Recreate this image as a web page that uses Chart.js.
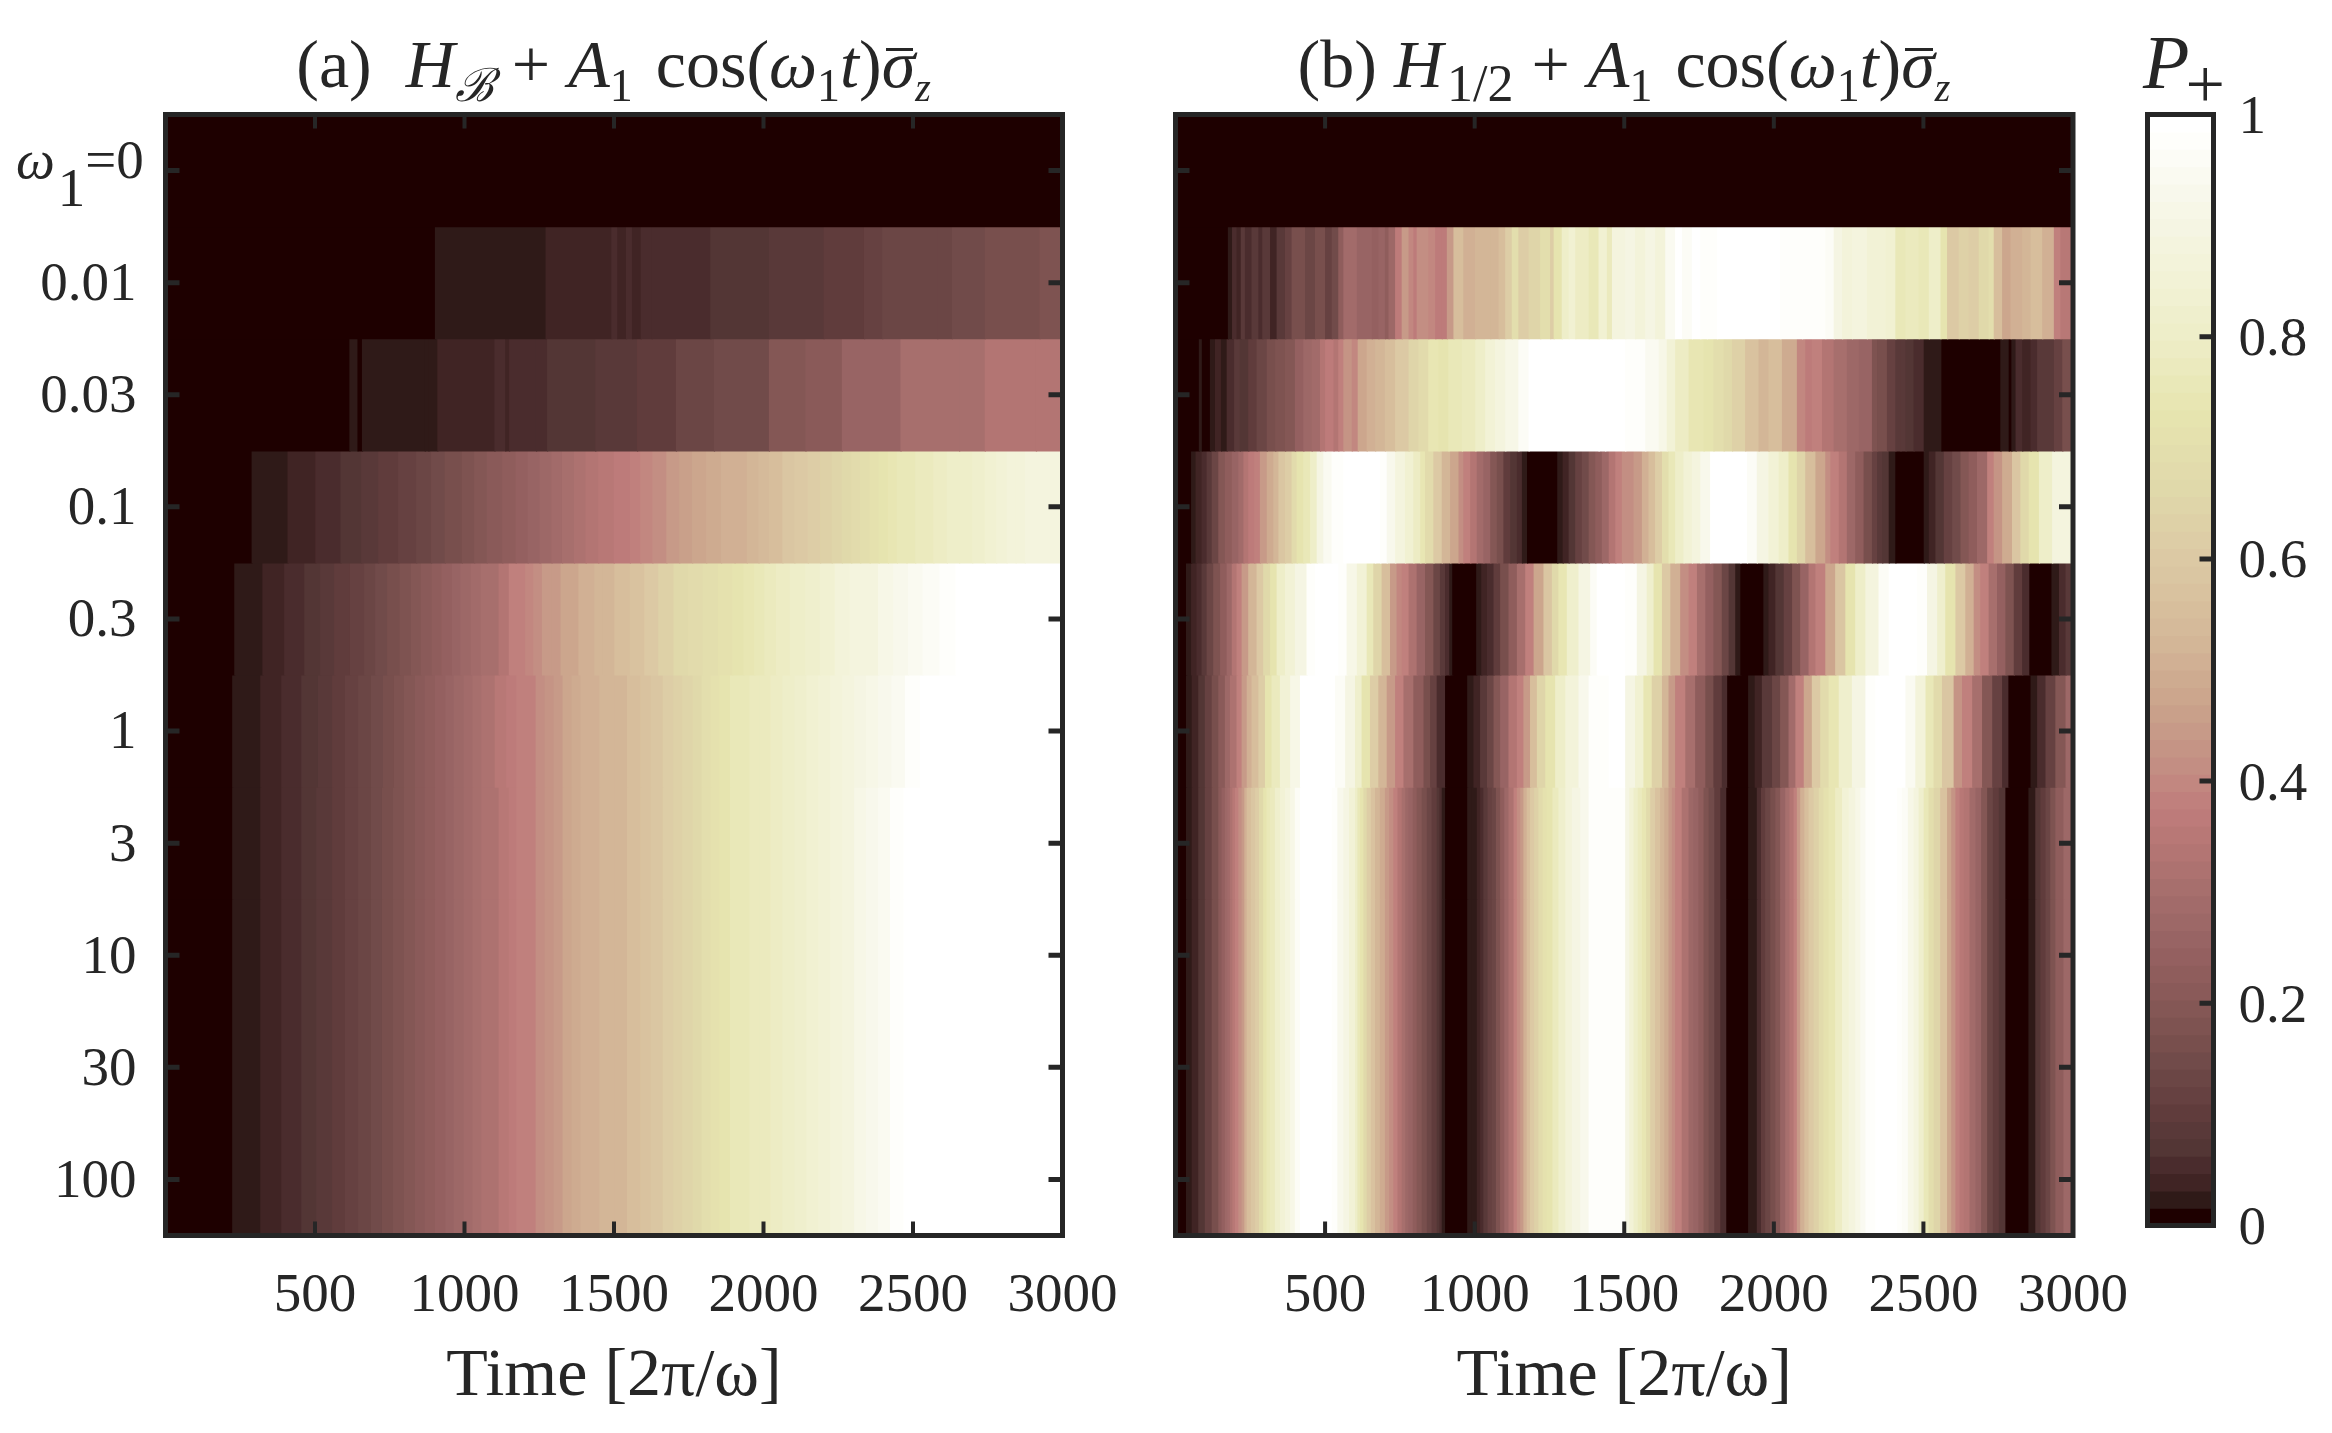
<!DOCTYPE html>
<html>
<head>
<meta charset="utf-8">
<script src="https://cdn.jsdelivr.net/npm/chart.js@4"></script>
<style>
  html, body { margin: 0; background: #fff; }
  #page { position: relative; width: 2332px; height: 1433px; overflow: hidden; font-family: "Liberation Serif", serif; color: #262626; }
  canvas { position: absolute; top: 0; }
  .ttl { position: absolute; top: 24px; text-align: center; font-size: 68px; line-height: 80px; white-space: nowrap; }
  .ttl sub { font-size: 46px; line-height: 0; vertical-align: -14px; }
  .ttl sub.s2 { font-size: 40px; }
  .ttl sub.half { font-size: 52px; margin-left: 4px; }
  .ttl .op { margin: 0 18px; }
  .ttl .cos { margin-left: 6px; }
  .ttl .bar { position: relative; }
  .ttl .bar::before { content: ""; position: absolute; left: 4px; right: 2px; top: 22px; height: 3px; background: #262626; }
  #cbLabel { position: absolute; left: 2143px; top: 22px; font-size: 76px; line-height: 80px; font-style: italic; white-space: nowrap; }
  #cbLabel sub { font-size: 70px; font-style: normal; line-height: 0; vertical-align: -20px; margin-left: -4px; }
  #w0 { position: absolute; left: 16px; top: 128px; font-size: 55px; line-height: 64px; white-space: nowrap; }
  #w0 sub { font-size: 55px; line-height: 0; vertical-align: -28px; margin: 0 0 0 3px; }
</style>
</head>
<body>
<div id="page">
  <canvas id="panelA" width="1150" height="1433" style="left:0"></canvas>
  <canvas id="panelB" width="1100" height="1433" style="left:1110px"></canvas>
  <canvas id="colorBar" width="222" height="1433" style="left:2110px"></canvas>
  <div class="ttl" style="left:165px;width:897px">(a)&nbsp; <i>H</i><sub><i>ℬ</i></sub><span class="op">+</span><i>A</i><sub>1</sub> <span class="cos">cos</span>(<i>ω</i><sub>1</sub><i>t</i>)<i class="bar">σ</i><sub class="s2"><i>z</i></sub></div>
  <div class="ttl" style="left:1175px;width:898px">(b) <i>H</i><sub class="half">1/2</sub><span class="op">+</span><i>A</i><sub>1</sub> <span class="cos">cos</span>(<i>ω</i><sub>1</sub><i>t</i>)<i class="bar">σ</i><sub class="s2"><i>z</i></sub></div>
  <div id="cbLabel">P<sub>+</sub></div>
  <div id="w0"><i>ω</i><sub>1</sub>=0</div>
</div>
<script>
const omegaLabels = ['ω=0', '0.01', '0.03', '0.1', '0.3', '1', '3', '10', '30', '100'];
const xTicksMax = 3000;

// colormap, [P, colour]
const cmapP = [0.008, 0.023, 0.039, 0.055, 0.07, 0.1, 0.15, 0.2, 0.25, 0.3, 0.35, 0.375, 0.41, 0.46, 0.53, 0.6, 0.66, 0.735, 0.8, 0.9, 0.99];
const cmapHex = ['1e0000', '2f1a18', '402424', '4a2c2d', '533635', '5f3c3c', '724b4a', '865856', '966262', 'a56e6c', 'b87876', 'bf7c7c', 'c38c82', 'c9a08a', 'd4b898', 'dcc9a4', 'e0d8aa', 'e7e5b0', 'eeeec8', 'f5f5e3', 'ffffff'];

// each row: time where a stretch starts and P+ on that stretch
const zeroT = [0];
const zeroP = [0];

// panel (a)
const a001T = [0,903,1273,1493,1513,1542,1562,1591,1628,1824,2020,2203,2338,2399,2583,2632,2742,2925];
const a001P = [0,.023,.039,.047,.039,.05,.039,.05,.055,.07,.09,.102,.11,.13,.14,.15,.16,.18];
const a003T = [0,617,644,659,869,881,911,1102,1138,1151,1241,1278,1439,1579,1709,1836,2020,2142,2264,2460,2656,2742,2913];
const a003P = [0,.023,0,.023,.03,.023,.039,.05,.039,.055,.047,.07,.09,.102,.13,.155,.19,.21,.25,.3,.31,.33,.34];
const a01T = [0,290,410,503,587,656,713,780,840,890,936,993,1034,1076,1128,1173,1213,1253,1293,1328,1368,1407,1449,1501,1555,1590,1630,1677,1720,1763,1810,1860,1905,1946,1985,2020,2065,2105,2150,2191,2230,2264,2295,2325,2357,2387,2418,2448,2480,2509,2540,2570,2615,2656,2700,2742,2780,2815,2845,2876];
const a01P = [0,.023,.039,.055,.07,.086,.102,.117,.133,.148,.164,.18,.195,.211,.227,.242,.258,.273,.289,.305,.32,.336,.352,.367,.39,.405,.42,.44,.455,.47,.485,.5,.515,.53,.545,.56,.58,.6,.615,.63,.645,.66,.68,.7,.715,.73,.74,.75,.76,.77,.78,.79,.8,.81,.82,.83,.845,.86,.87,.88];
const a03T = [0,232,326,399,466,519,566,619,666,703,743,785,823,856,892,925,960,988,1023,1056,1116,1150,1205,1232,1261,1292,1323,1353,1383,1409,1436,1465,1503,1555,1603,1650,1701,1750,1799,1850,1897,1935,1971,2005,2044,2090,2142,2190,2240,2290,2338,2385,2436,2485,2534,2590,2644];
const a03P = [0,.023,.039,.055,.07,.086,.102,.117,.133,.148,.164,.18,.195,.211,.227,.242,.258,.273,.289,.305,.34,.375,.40,.42,.44,.45,.47,.48,.50,.51,.52,.53,.55,.575,.6,.63,.66,.68,.7,.715,.73,.745,.76,.775,.79,.805,.82,.84,.86,.875,.89,.91,.93,.945,.96,.98,1];
const a1T = [0,225,319,389,456,512,559,602,646,689,729,766,799,836,869,903,938,966,999,1029,1058,1103,1141,1175,1212,1240,1270,1300,1330,1360,1390,1420,1453,1503,1545,1590,1625,1665,1700,1730,1765,1795,1825,1855,1890,1920,1955,1990,2025,2065,2105,2145,2185,2225,2265,2305,2345,2385,2430,2475,2525,2583];
const a1P = [0,.023,.039,.055,.07,.086,.102,.117,.133,.148,.164,.18,.195,.21,.227,.242,.258,.273,.29,.305,.32,.345,.36,.375,.385,.41,.43,.45,.47,.485,.5,.515,.525,.53,.55,.57,.59,.61,.63,.65,.67,.69,.71,.73,.75,.755,.77,.78,.79,.805,.82,.83,.845,.86,.88,.9,.915,.93,.95,.97,.985,1];
const a3T = [0,225,319,389,456,506,559,602,646,689,726,763,799,836,869,903,938,966,999,1029,1058,1116,1150,1175,1212,1240,1270,1300,1330,1360,1390,1420,1453,1503,1545,1590,1625,1665,1700,1730,1765,1795,1825,1855,1890,1920,1955,1990,2025,2065,2105,2145,2185,2225,2265,2305,2345,2385,2425,2470,2520];
const a3P = [0,.023,.039,.055,.07,.086,.102,.117,.133,.148,.164,.18,.195,.21,.227,.242,.258,.273,.29,.305,.32,.345,.36,.375,.385,.41,.43,.45,.47,.485,.5,.515,.525,.53,.55,.57,.59,.61,.63,.65,.67,.69,.71,.73,.75,.755,.77,.78,.79,.805,.82,.83,.845,.865,.89,.91,.93,.95,.97,.985,1];

// panel (b)
const b001T = [0,177,191,206,220,234,256,279,292,318,340,368,390,435,468,502,524,546,563,608,658,680,702,714,736,758,781,797,808,847,870,892,909,931,964,1003,1054,1082,1104,1126,1148,1182,1221,1254,1266,1293,1316,1338,1383,1416,1444,1461,1505,1538,1572,1605,1639,1672,1695,1728,1756,1778,1812,2023,2096,2174,2202,2230,2263,2313,2375,2408,2442,2486,2520,2559,2581,2620,2653,2687,2720,2737,2765,2793,2832,2860,2899,2938,2960];
const b001P = [0,.03,.05,.04,.09,.05,.08,.06,.08,.04,.09,.12,.17,.14,.17,.12,.15,.22,.29,.26,.24,.25,.22,.28,.36,.45,.40,.37,.41,.40,.37,.36,.44,.55,.50,.53,.52,.56,.62,.70,.62,.65,.70,.62,.72,.80,.84,.79,.76,.84,.78,.88,.90,.87,.9,.86,.95,1,.96,1,.97,.98,1,.98,.97,.96,.90,.87,.89,.85,.83,.75,.78,.76,.8,.72,.60,.64,.62,.66,.70,.55,.47,.5,.52,.56,.5,.38,.35];
const b003T = [0,80,90,117,134,154,173,198,217,245,273,307,335,368,401,429,457,485,502,530,546,563,591,611,641,669,702,736,781,814,847,881,914,959,1004,1037,1070,1104,1148,1182,1416,1438,1505,1572,1617,1644,1672,1717,1767,1800,1834,1862,1906,1951,1984,2029,2079,2107,2129,2163,2202,2246,2286,2330,2347,2380,2408,2425,2442,2469,2503,2562,2759,2787,2796,2810,2832,2860,2882,2938,2966];
const b003P = [0,.02,0,.03,.04,.03,.05,.08,.07,.1,.13,.16,.18,.2,.24,.27,.29,.33,.37,.34,.38,.43,.40,.47,.50,.53,.56,.6,.65,.68,.74,.72,.76,.78,.81,.85,.89,.92,.96,.99,1,.99,.97,.94,.91,.85,.79,.74,.72,.70,.66,.63,.57,.52,.55,.49,.40,.37,.39,.34,.31,.28,.25,.18,.16,.11,.08,.09,.07,.06,.023,0,.02,0,.03,.05,.04,.05,.08,.12,.16];
const b01T = [0,54,69,89,106,123,145,167,190,212,229,245,265,284,307,329,346,368,390,407,429,452,474,496,524,563,669,686,708,736,769,797,820,836,864,892,920,948,964,987,1009,1031,1054,1076,1098,1121,1143,1160,1177,1278,1296,1316,1338,1360,1383,1405,1427,1450,1472,1494,1533,1561,1583,1605,1628,1650,1672,1700,1728,1756,1789,1890,1912,1945,1984,2018,2051,2079,2107,2141,2174,2191,2219,2246,2274,2302,2330,2347,2364,2386,2408,2503,2520,2542,2570,2598,2626,2653,2681,2715,2737,2765,2798,2826,2854,2888,2932];
const b01P = [0,.023,.04,.06,.09,.14,.19,.23,.26,.29,.33,.37,.38,.44,.49,.53,.58,.62,.68,.72,.76,.8,.9,.94,.97,1,1,.97,.93,.88,.83,.79,.74,.68,.60,.52,.47,.42,.375,.33,.29,.25,.2,.16,.1,.07,.05,.03,0,.023,.04,.07,.11,.15,.19,.23,.28,.33,.375,.42,.45,.5,.56,.62,.7,.76,.8,.85,.89,.93,1,1,.96,.9,.85,.8,.73,.65,.55,.47,.41,.375,.33,.27,.22,.17,.12,.09,.07,.03,0,.023,.04,.07,.11,.15,.19,.23,.28,.375,.43,.49,.58,.66,.73,.8,.88];
const b03T = [0,37,54,72,89,106,128,151,173,190,206,223,245,273,295,318,340,368,401,440,468,524,546,574,608,641,663,691,719,741,758,781,808,836,864,886,903,917,927,1007,1024,1043,1065,1087,1115,1143,1171,1199,1232,1260,1282,1310,1349,1388,1410,1505,1544,1577,1600,1628,1656,1689,1717,1745,1773,1800,1828,1851,1873,1890,1967,1984,2007,2035,2063,2090,2118,2141,2174,2207,2241,2274,2308,2352,2386,2453,2481,2514,2548,2575,2609,2642,2670,2692,2720,2748,2776,2804,2832,2856,2930,2955,2977];
const b03P = [0,.023,.04,.06,.09,.13,.18,.23,.28,.33,.375,.45,.52,.6,.66,.73,.8,.85,.9,.97,1,1,.98,.92,.85,.75,.65,.55,.45,.40,.375,.32,.26,.19,.14,.09,.05,.023,0,.02,.04,.06,.1,.16,.22,.3,.375,.47,.58,.67,.74,.82,.9,.96,1,.98,.9,.82,.73,.6,.5,.42,.375,.3,.24,.19,.13,.07,.03,0,.023,.04,.07,.12,.18,.25,.33,.38,.47,.58,.72,.8,.88,.96,1,1,.97,.9,.82,.73,.6,.5,.42,.375,.3,.24,.18,.1,.05,0,.03,.05,.08];
const b1T = [0,37,56,78,100,123,145,167,184,206,223,240,256,279,301,323,351,385,418,507,535,569,602,624,652,680,708,736,764,797,831,853,875,903,977,998,1020,1043,1065,1087,1115,1143,1165,1187,1210,1238,1271,1305,1349,1383,1450,1505,1538,1566,1594,1628,1650,1672,1706,1739,1773,1800,1828,1846,1916,1938,1962,1996,2023,2051,2074,2102,2129,2157,2185,2219,2263,2308,2341,2408,2442,2475,2509,2536,2564,2603,2631,2665,2698,2732,2765,2786,2860,2882,2910,2943,2977];
const b1P = [0,.023,.04,.07,.11,.16,.21,.27,.32,.375,.45,.5,.55,.62,.72,.78,.85,.92,1,1,.96,.9,.82,.73,.62,.53,.45,.375,.3,.22,.17,.11,.06,0,.03,.04,.08,.14,.2,.26,.33,.375,.45,.55,.65,.72,.8,.87,.93,.97,1,.9,.84,.74,.63,.52,.45,.375,.3,.23,.17,.1,.05,0,.02,.04,.08,.14,.2,.29,.375,.47,.6,.68,.74,.82,.9,.97,1,1,.95,.87,.76,.68,.58,.43,.375,.3,.2,.11,.05,0,.03,.06,.12,.2,.28];
const b3T = [0,37,56,78,100,123,
    145,156,167,175,184,192,201,212,223,232,240,254,268,281,295,306,318,334,351,368,385,401,418,
    491,507,524,543,563,582,602,610,619,630,641,655,669,685,702,716,730,744,758,770,781,795,808,825,842,858,875,884,892,903,
    977,993,1009,1020,1031,1045,1059,1073,1087,1101,1115,1132,1143,1154,1165,1176,1187,1201,1215,1229,1243,1262,1282,1305,1327,1355,1383,1450,
    1505,1519,1533,1547,1561,1575,1589,1605,1622,1636,1650,1661,1672,1694,1717,1733,1750,1767,1784,1803,1823,1843,
    1916,1945,1959,1973,1990,2007,2023,2040,2054,2068,2079,2090,2104,2118,2135,2152,2168,2185,2207,2230,2252,2274,2291,2308,2341,
    2397,2414,2430,2450,2469,2486,2503,2519,2536,2558,2581,2595,2609,2623,2637,2656,2676,2695,2715,2734,2754,2776,
    2853,2876,2893,2910,2926,2943,2970];
const b3P = [0,.023,.04,.07,.11,.16,
    .21,.24,.27,.295,.32,.345,.375,.41,.45,.5,.55,.585,.62,.67,.72,.75,.78,.815,.85,.885,.92,.96,1,
    1,.985,.97,.935,.9,.85,.8,.76,.72,.67,.62,.57,.52,.485,.45,.41,.375,.335,.3,.275,.25,.225,.2,.165,.13,.1,.07,.05,.03,0,
    .02,.03,.04,.06,.08,.11,.14,.18,.22,.27,.32,.375,.41,.45,.5,.55,.6,.64,.68,.705,.73,.775,.82,.86,.9,.935,.97,.98,
    .9,.85,.8,.77,.74,.68,.62,.57,.52,.485,.45,.41,.375,.325,.28,.25,.22,.185,.15,.1,.05,0,
    .03,.06,.095,.13,.165,.2,.25,.3,.34,.375,.44,.5,.55,.6,.64,.68,.71,.74,.795,.85,.885,.92,.95,.98,1,
    1,.98,.96,.92,.88,.82,.76,.7,.65,.565,.48,.43,.375,.35,.33,.29,.25,.195,.14,.105,.07,0,
    .03,.07,.105,.14,.18,.22,.28];

const rowsA = [[zeroT,zeroP],[a001T,a001P],[a003T,a003P],[a01T,a01P],[a03T,a03P],[a1T,a1P],[a3T,a3P],[a3T,a3P],[a3T,a3P],[a3T,a3P]];
const rowsB = [[zeroT,zeroP],[b001T,b001P],[b003T,b003P],[b01T,b01P],[b03T,b03P],[b1T,b1P],[b3T,b3P],[b3T,b3P],[b3T,b3P],[b3T,b3P]];

const INK = '#262626';
Chart.defaults.font.family = '"Liberation Serif", serif';
Chart.defaults.color = INK;

function hexRgb(h) {
    return [0, 2, 4].map(i => parseInt(h.substr(i, 2), 16));
}

// 64 level colormap, like the picture
function cmap(p) {
    const v = (Math.min(63, Math.floor(p * 64)) + 0.5) / 64;
    if (v <= cmapP[0]) return '#' + cmapHex[0];
    for (let i = 1; i < cmapP.length; i++) {
        if (v <= cmapP[i]) {
            const f = (v - cmapP[i - 1]) / (cmapP[i] - cmapP[i - 1]);
            const a = hexRgb(cmapHex[i - 1]), b = hexRgb(cmapHex[i]);
            return `rgb(${a.map((c, k) => Math.round(c + (b[k] - c) * f)).join(',')})`;
        }
    }
    return '#ffffff';
}

function rowDataset(row, label) {
    const [t, p] = row;
    if (t.length !== p.length) throw new Error('row length mismatch ' + label + ' ' + t.length + ' ' + p.length);
    return {
        data: t.map((t0, i) => ({y: label, x: [t0, i + 1 < t.length ? t[i + 1] : xTicksMax]})),
        backgroundColor: p.map(cmap),
    };
}

// frame and inward tick marks
const frameTicks = {
    id: 'frameTicks',
    afterDraw(chart, args, opts) {
        const {ctx, chartArea: a, scales} = chart;
        const len = 14;
        ctx.save();
        ctx.strokeStyle = INK;
        ctx.lineWidth = 5;
        ctx.strokeRect(a.left, a.top, a.right - a.left, a.bottom - a.top);
        if (scales.x && !opts.rightOnly) {
            ctx.lineWidth = 4;
            ctx.beginPath();
            scales.x.ticks.forEach(tk => {
                const px = scales.x.getPixelForValue(tk.value);
                if (tk.value <= 0 || tk.value >= xTicksMax) return;
                ctx.moveTo(px, a.top); ctx.lineTo(px, a.top + len);
                ctx.moveTo(px, a.bottom); ctx.lineTo(px, a.bottom - len);
            });
            ctx.stroke();
        }
        ctx.lineWidth = 5;
        ctx.beginPath();
        scales.y.ticks.forEach(tk => {
            const py = scales.y.getPixelForValue(tk.value);
            if (opts.rightOnly && (tk.value <= 0 || tk.value >= 1)) return;
            if (!opts.rightOnly) { ctx.moveTo(a.left, py); ctx.lineTo(a.left + len, py); }
            ctx.moveTo(a.right, py); ctx.lineTo(a.right - len, py);
        });
        ctx.stroke();
        ctx.restore();
    }
};

function heatPanel(id, rows, withLabels, yWidth, padRight) {
    return new Chart(document.getElementById(id), {
        type: 'bar',
        data: {labels: omegaLabels, datasets: rows.map((r, i) => rowDataset(r, omegaLabels[i]))},
        plugins: [frameTicks],
        options: {
            responsive: false,
            animation: false,
            devicePixelRatio: 1,
            indexAxis: 'y',
            layout: {padding: {top: 114.5, left: 0, right: padRight, bottom: 0}},
            datasets: {bar: {grouped: false, categoryPercentage: 1, barPercentage: 1, borderWidth: 0, inflateAmount: 0.6}},
            plugins: {legend: {display: false}, tooltip: {enabled: false}, title: {display: false}, frameTicks: {}},
            scales: {
                x: {
                    type: 'linear',
                    min: 0,
                    max: xTicksMax,
                    grid: {display: false, drawTicks: false},
                    border: {display: false},
                    ticks: {
                        stepSize: 500,
                        autoSkip: false,
                        maxRotation: 0,
                        padding: 28,
                        font: {size: 55},
                        callback: v => v === 0 ? '' : String(v),
                    },
                    title: {display: true, text: 'Time [2π/ω]', font: {size: 68}, padding: {top: 0, bottom: 15}},
                    afterFit: s => { s.height = 1433 - 1235.5; },
                },
                y: {
                    type: 'category',
                    labels: omegaLabels,
                    grid: {display: false, drawTicks: false},
                    border: {display: false},
                    ticks: {
                        display: withLabels,
                        autoSkip: false,
                        padding: 29,
                        labelOffset: 3,
                        font: {size: 55},
                        callback(v, i) { return i === 0 ? '' : omegaLabels[i]; },
                    },
                    afterFit: s => { s.width = yWidth; },
                },
            },
        },
    });
}

heatPanel('panelA', rowsA, true, 165.5, 1150 - 1062.5);
heatPanel('panelB', rowsB, false, 65.5, 2210 - 2073);

// colorbar: one bar for each of the 64 levels
const levelEdges = Array.from({length: 65}, (_, i) => i / 64);
const cbTicks = [0, 0.2, 0.4, 0.6, 0.8, 1];
new Chart(document.getElementById('colorBar'), {
    type: 'bar',
    data: {
        labels: ['P'],
        datasets: [{
            data: levelEdges.slice(0, 64).map((e, i) => ({x: 'P', y: [e, levelEdges[i + 1]]})),
            backgroundColor: levelEdges.slice(0, 64).map(e => cmap(e + 1 / 128)),
        }],
    },
    plugins: [frameTicks],
    options: {
        responsive: false,
        animation: false,
        devicePixelRatio: 1,
        layout: {padding: {top: 114.5, left: 37.5, right: 0, bottom: 1433 - 1225.5}},
        datasets: {bar: {grouped: false, categoryPercentage: 1, barPercentage: 1, borderWidth: 0, inflateAmount: 0.6}},
        plugins: {legend: {display: false}, tooltip: {enabled: false}, frameTicks: {rightOnly: true}},
        scales: {
            x: {display: false},
            y: {
                position: 'right',
                min: 0,
                max: 1,
                grid: {display: false, drawTicks: false},
                border: {display: false},
                ticks: {
                    stepSize: 0.2,
                    padding: 25,
                    labelOffset: 4,
                    font: {size: 55},
                    callback: v => cbTicks.includes(Math.round(v * 10) / 10) ? String(Math.round(v * 10) / 10) : '',
                },
                afterFit: s => { s.width = 222 - (2213.5 - 2110); },
            },
        },
    },
});
</script>
</body>
</html>
